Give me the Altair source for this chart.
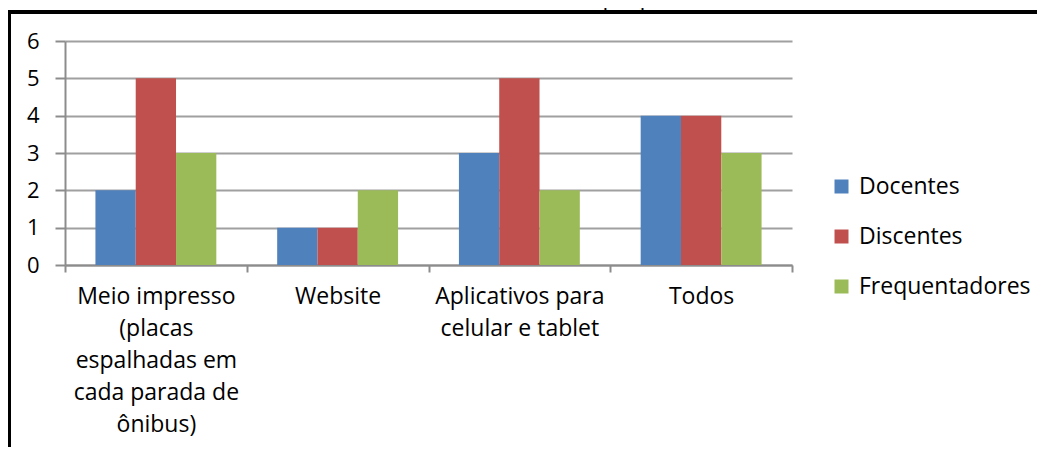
import json
import altair as alt
import pandas as pd

categories = [
    "Meio impresso (placas espalhadas em cada parada de ônibus)",
    "Website",
    "Aplicativos para celular e tablet",
    "Todos",
]
label_lines = [
    ["Meio impresso", "(placas", "espalhadas em", "cada parada de", "ônibus)"],
    ["Website"],
    ["Aplicativos para", "celular e tablet"],
    ["Todos"],
]
series = ["Docentes", "Discentes", "Frequentadores"]
docentes = [2, 1, 3, 4]
discentes = [5, 1, 5, 4]
frequentadores = [3, 2, 2, 3]
colors = ["#4F81BD", "#C0504D", "#9BBB59"]
y_ticks = [0, 1, 2, 3, 4, 5, 6]
source_note = "Fonte: Dados da pesquisa."

rows = []
for s, vals in zip(series, [docentes, discentes, frequentadores]):
    for c, v in zip(categories, vals):
        rows.append({"category": c, "series": s, "value": v})
df = pd.DataFrame(rows)

expr = "[datum.value]"
for c, lines in reversed(list(zip(categories, label_lines))):
    expr = f"datum.value === {json.dumps(c)} ? {json.dumps(lines)} : ({expr})"

FONT = "Open Sans"
GRID = "#a0a0a0"
AXIS = "#8c8c8c"

bars = alt.Chart(df).mark_bar().encode(
    x=alt.X(
        "category:N",
        sort=categories,
        title=None,
        scale=alt.Scale(paddingInner=0, paddingOuter=0),
        axis=alt.Axis(
            labelExpr=expr,
            labelAngle=0,
            labelFont=FONT,
            labelFontSize=23,
            labelColor="#000000",
            labelLineHeight=32,
            labelPadding=13,
            labelBaseline="top",
            tickBand="extent",
            tickSize=7,
            tickWidth=2,
            tickColor=AXIS,
            domainColor=AXIS,
            domainWidth=2,
            grid=False,
            labelLimit=400,
        ),
    ),
    xOffset=alt.XOffset(
        "series:N", sort=series, scale=alt.Scale(paddingInner=0, paddingOuter=0.755)
    ),
    y=alt.Y(
        "value:Q",
        title=None,
        scale=alt.Scale(domain=[0, 6], nice=False),
        axis=alt.Axis(
            values=y_ticks,
            labelFont=FONT,
            labelFontSize=22,
            labelColor="#000000",
            labelPadding=16,
            tickSize=10,
            tickWidth=2,
            tickColor=AXIS,
            domainColor=AXIS,
            domainWidth=2,
            gridColor=GRID,
            gridWidth=2,
        ),
    ),
    color=alt.Color(
        "series:N",
        sort=series,
        scale=alt.Scale(domain=series, range=colors),
        legend=alt.Legend(
            title=None,
            orient="none",
            legendX=765,
            legendY=134,
            symbolType="square",
            symbolSize=196,
            symbolStrokeWidth=0,
            labelFont=FONT,
            labelFontSize=23,
            labelColor="#000000",
            labelOffset=6,
            labelLimit=400,
            rowPadding=26,
        ),
    ),
)

one = pd.DataFrame({"t": [source_note]})
note = alt.Chart(one).mark_text(
    font="Liberation Serif", fontSize=23, baseline="alphabetic", align="center", color="#000000"
).encode(x=alt.value(502), y=alt.value(-34), text="t:N")

top_border = alt.Chart(one).mark_rule(color="#000000", strokeWidth=4).encode(
    x=alt.value(-70), x2=alt.value(1000), y=alt.value(-29)
)
left_border = alt.Chart(one).mark_rule(color="#000000", strokeWidth=5).encode(
    x=alt.value(-56.5), y=alt.value(-31), y2=alt.value(500)
)

chart = alt.layer(bars, note, top_border, left_border).properties(
    width=727,
    height=224,
    autosize=alt.AutoSizeParams(type="none"),
    padding={"left": 57, "top": 33, "right": 245, "bottom": 182},
    background="#ffffff",
).configure_view(stroke=None)

chart.save("out.html", embed_options={"renderer": "svg", "actions": False})
